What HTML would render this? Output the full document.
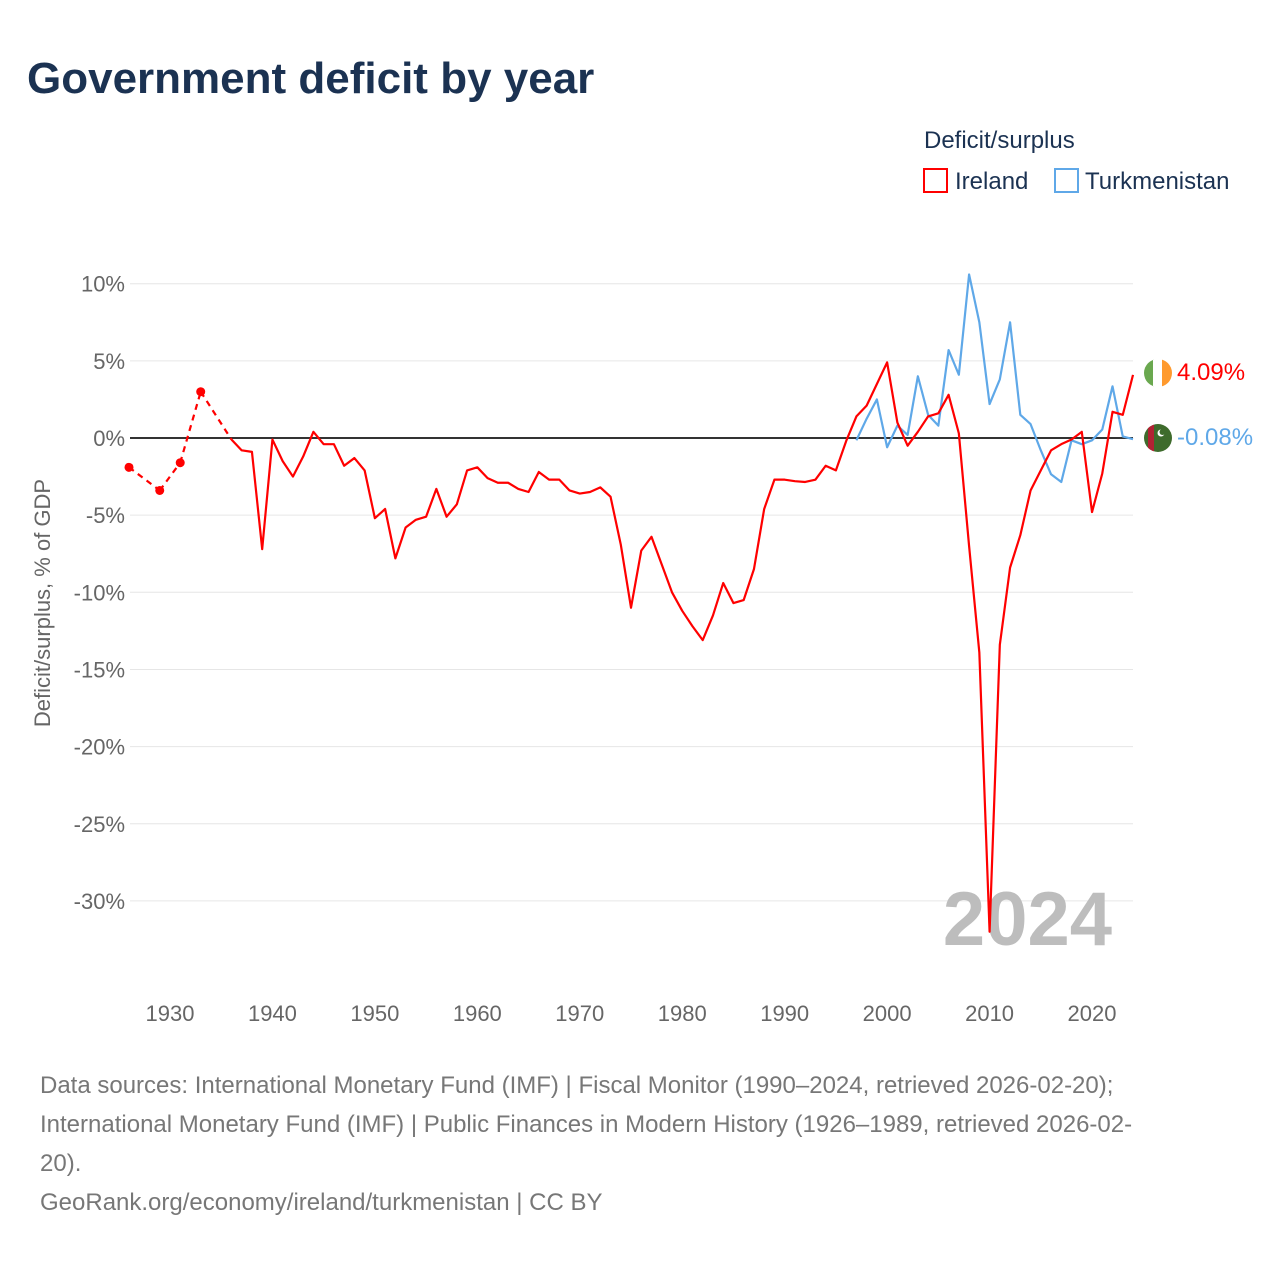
<!DOCTYPE html>
<html><head><meta charset="utf-8"><style>
body{margin:0;background:#fff;font-family:"Liberation Sans",sans-serif;}
#wrap{position:relative;width:1280px;height:1280px;overflow:hidden}
</style></head><body><div id="wrap">
<svg id="chart" width="1280" height="1280" style="position:absolute;left:0;top:0">
<text x="27" y="93" font-size="44" font-weight="bold" fill="#1b3252">Government deficit by year</text>
<text x="924" y="148" font-size="24" fill="#1b3252">Deficit/surplus</text>
<g><rect x="924" y="169" width="23" height="23" fill="none" stroke="#ff0000" stroke-width="2"/><text x="955" y="189" font-size="24" fill="#1b3252">Ireland</text></g>
<g><rect x="1055" y="169" width="23" height="23" fill="none" stroke="#5fa8e8" stroke-width="2"/><text x="1085" y="189" font-size="24" fill="#1b3252">Turkmenistan</text></g>
<text transform="translate(50,603) rotate(-90)" text-anchor="middle" font-size="22" fill="#666">Deficit/surplus, % of GDP</text>
<g id="grid"></g><g id="yt"></g><g id="xt"></g>
<text x="1112" y="945" text-anchor="end" font-size="76" font-weight="bold" fill="#bdbdbd">2024</text>
<line id="zero" stroke="#333" stroke-width="2"/>
<g id="series"></g>
<g><clipPath id="c1"><circle cx="1158" cy="373" r="14"/></clipPath><g clip-path="url(#c1)"><rect x="1144" y="359" width="10" height="28" fill="#6aa84f"/><rect x="1153" y="359" width="10" height="28" fill="#fff"/><rect x="1162" y="359" width="10" height="28" fill="#ff9a2e"/></g></g>
<g><clipPath id="c2"><circle cx="1158" cy="438" r="14"/></clipPath><g clip-path="url(#c2)"><rect x="1144" y="424" width="28" height="28" fill="#3e6b2c"/><rect x="1148" y="424" width="6" height="28" fill="#b22234"/><circle cx="1161" cy="433" r="3.5" fill="#fff"/><circle cx="1162.5" cy="432" r="3" fill="#3e6b2c"/></g></g>
<text x="1177" y="380" font-size="24" fill="#ff0000">4.09%</text>
<text x="1177" y="445" font-size="24" fill="#5fa8e8">-0.08%</text>
<g font-size="24" fill="#777">
<text x="40" y="1093">Data sources: International Monetary Fund (IMF) | Fiscal Monitor (1990–2024, retrieved 2026-02-20);</text>
<text x="40" y="1132">International Monetary Fund (IMF) | Public Finances in Modern History (1926–1989, retrieved 2026-02-</text>
<text x="40" y="1171">20).</text>
<text x="40" y="1210">GeoRank.org/economy/ireland/turkmenistan | CC BY</text>
</g>
</svg></div>
<script>
const years=[];for(let y=1926;y<=2024;y++)years.push(y);
const yTicks=[10,5,0,-5,-10,-15,-20,-25,-30];
const xTicks=[1930,1940,1950,1960,1970,1980,1990,2000,2010,2020];
const ireland=[-1.9,null,null,-3.4,null,-1.6,null,3.0,null,null,-0.1,-0.8,-0.9,-7.2,-0.1,-1.5,-2.5,-1.2,0.4,-0.4,-0.4,-1.8,-1.3,-2.1,-5.2,-4.6,-7.8,-5.8,-5.3,-5.1,-3.3,-5.1,-4.3,-2.1,-1.9,-2.6,-2.9,-2.9,-3.3,-3.5,-2.2,-2.7,-2.7,-3.4,-3.6,-3.5,-3.2,-3.8,-6.9,-11.0,-7.3,-6.4,-8.2,-10.0,-11.2,-12.2,-13.1,-11.5,-9.4,-10.7,-10.5,-8.5,-4.6,-2.7,-2.7,-2.8,-2.85,-2.7,-1.8,-2.1,-0.2,1.4,2.1,3.5,4.9,1.0,-0.5,0.4,1.4,1.6,2.8,0.3,-7.0,-13.9,-32.0,-13.4,-8.4,-6.3,-3.4,-2.1,-0.8,-0.4,-0.1,0.4,-4.8,-2.3,1.7,1.5,4.09];
const turkYears=[];for(let y=1997;y<=2024;y++)turkYears.push(y);
const turkmenistan=[-0.15,1.25,2.5,-0.6,0.8,0.2,4.0,1.5,0.8,5.7,4.1,10.6,7.5,2.2,3.8,7.5,1.5,0.9,-0.8,-2.35,-2.85,-0.15,-0.4,-0.15,0.55,3.35,0.1,-0.08];
const X=y=>129+(y-1926)*10.245, Y=v=>438-v*15.43;
const NS='http://www.w3.org/2000/svg';
function mk(t,a,p){const e=document.createElementNS(NS,t);for(const k in a)e.setAttribute(k,a[k]);p.appendChild(e);return e;}
const grid=document.getElementById('grid'),yt=document.getElementById('yt'),xt=document.getElementById('xt'),ser=document.getElementById('series');
yTicks.forEach(v=>{const l=mk('line',{x1:130,x2:1133,y1:Y(v),y2:Y(v),stroke:'#e6e6e6','stroke-width':1},grid);


const t=mk('text',{x:125,y:Y(v)+8,'text-anchor':'end','font-size':22,fill:'#666'},yt);t.textContent=v+'%';

});
xTicks.forEach(y=>{const t=mk('text',{x:X(y),y:1021,'text-anchor':'middle','font-size':22,fill:'#666'},xt);t.textContent=y;

});
const z=document.getElementById('zero');z.setAttribute('x1',130);z.setAttribute('x2',1133);z.setAttribute('y1',Y(0));z.setAttribute('y2',Y(0));
function draw(xs,vs,color,name){
 const pts=[];xs.forEach((y,i)=>{if(vs[i]!==null)pts.push([y,vs[i],i]);});
 let seg=[];const segs=[];
 for(let k=0;k<pts.length;k++){
  if(k>0){const prev=pts[k-1];
   if(pts[k][2]-prev[2]>1){const d=mk('line',{x1:X(prev[0]),y1:Y(prev[1]),x2:X(pts[k][0]),y2:Y(pts[k][1]),stroke:color,'stroke-width':2.2,'stroke-dasharray':'6,5'},ser);
    
    
    segs.push(seg);seg=[];}}
  seg.push(pts[k]);}
 segs.push(seg);
 segs.forEach(s=>{if(s.length===1){const c=mk('circle',{cx:X(s[0][0]),cy:Y(s[0][1]),r:4.5,fill:color},ser);
   
   }
  else{const p=mk('polyline',{points:s.map(q=>X(q[0])+','+Y(q[1])).join(' '),fill:'none',stroke:color,'stroke-width':2.2,'stroke-linejoin':'round'},ser);
   
   }});
}
draw(turkYears,turkmenistan,'#5fa8e8','turkmenistan');
draw(years,ireland,'#ff0000','ireland');
</script></body></html>
